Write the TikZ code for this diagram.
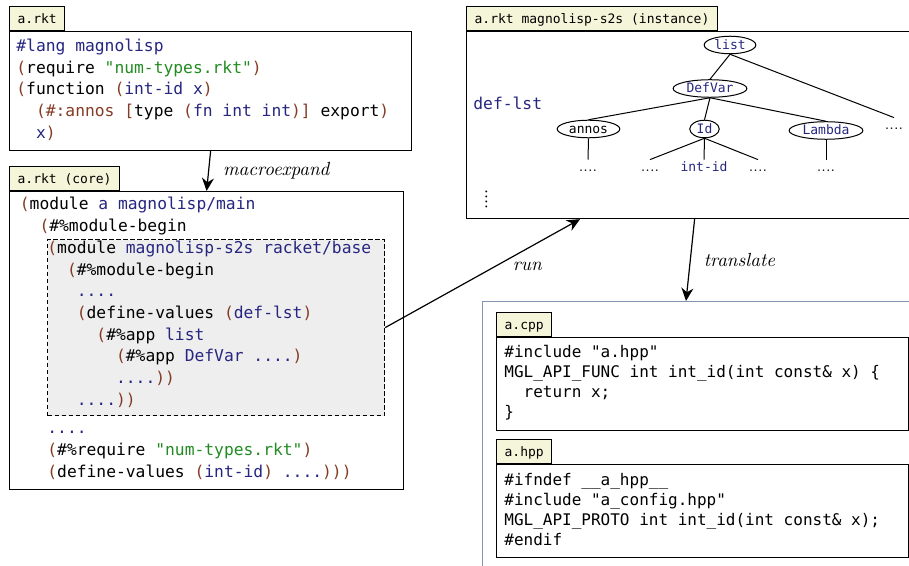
\documentclass[tikz,border=0pt]{standalone}
\usepackage{fontspec}
\usetikzlibrary{arrows.meta,positioning,shapes.geometric,calc}

\newfontfamily\codefont{DejaVu Sans Mono}
\newcommand\codesize{\fontsize{8.15}{10.85}\selectfont}
\newcommand\cppsize{\fontsize{8}{10}\selectfont}
\newcommand\tabsize{\fontsize{6.5}{8}\selectfont}
\newcommand\ci[1]{\hspace*{#1\fontcharwd\font`x}}

\definecolor{pncol}{HTML}{843C24}
\definecolor{symcol}{HTML}{262680}
\definecolor{strcol}{HTML}{228B22}
\definecolor{tabfill}{RGB}{245,245,218}
\definecolor{modfill}{RGB}{238,238,238}
\definecolor{framecol}{RGB}{130,150,180}

\newcommand\pn[1]{\textcolor{pncol}{#1}}
\newcommand\sy[1]{\textcolor{symcol}{#1}}
\newcommand\st[1]{\textcolor{strcol}{#1}}

\begin{document}
\begin{tikzpicture}[x=0.5pt,y=-0.5pt,>={Stealth[length=6.5pt,width=6pt]},
  file box/.style={draw,line width=0.6pt,inner sep=0,anchor=north west},
  file tab/.style={draw,line width=0.6pt,fill=tabfill,font=\codefont\tabsize,minimum height=12pt,
    inner xsep=4pt,inner ysep=0,text height=4.9pt,text depth=0pt},
  code text/.style={anchor=north west,inner sep=0,align=left,font=\codefont\codesize},
  cpp text/.style={code text,font=\codefont\cppsize},
  ast node/.style={ellipse,draw,line width=0.5pt,font=\codefont\tabsize,text=symcol,
    inner xsep=1.3pt,inner ysep=0.3pt,text height=5pt,text depth=0.6pt},
  leaf/.style={anchor=base,font=\fontsize{7}{8}\selectfont,inner xsep=0.5pt,inner ysep=1pt,text height=5pt},
  step label/.style={font=\itshape\fontsize{9.5}{11}\selectfont,inner sep=0}]

  \useasboundingbox[fill=white] (0,0) rectangle (909,566);

  % source module
  \node[file box,minimum width=201pt,minimum height=59.5pt] (src) at (9,31) {};
  \node[file tab,above right=0pt and 0pt of src.north west] (srctab) {a.rkt};
  \node[code text] (srccode) at (16,35.8) {%
    \strut\sy{\#lang magnolisp}\\
    \pn{(}require \st{"num-types.rkt"}\pn{)}\\
    \pn{(}function \pn{(}\sy{int-id x}\pn{)}\\
    \ci{2}\pn{(\#:annos [}type \pn{(}\sy{fn int int}\pn{)]} export\pn{)}\\
    \ci{2}\sy{x}\pn{)}};

  % fully expanded module
  \node[file box,minimum width=197pt,minimum height=149pt] (core) at (9,191) {};
  \node[file tab,above right=0pt and 0pt of core.north west] (coretab) {a.rkt (core)};
  \node[code text] (corehead) at (19.5,194.3) {%
    \strut\pn{(}module \sy{a magnolisp/main}\\
    \ci{2}\pn{(}\#\%module-begin};
  \node[file box,dashed,dash pattern=on 2.1pt off 1.4pt,fill=modfill,minimum width=168.5pt,minimum height=88pt] (s2smod) at (47,239) {};
  \node[code text] (s2scode) at (47,237.8) {%
    \strut\pn{(}module \sy{magnolisp-s2s racket/base}\\
    \ci{2}\pn{(}\#\%module-begin\\
    \ci{3}\sy{....}\\
    \ci{3}\pn{(}define-values \pn{(}\sy{def-lst}\pn{)}\\
    \ci{5}\pn{(}\#\%app \sy{list}\\
    \ci{7}\pn{(}\#\%app \sy{DefVar ....}\pn{)}\\
    \ci{7}\sy{....}\pn{))}\\
    \ci{3}\sy{....}\pn{))}};
  \node[code text] (coretail) at (47,418.1) {%
    \strut\sy{....}\\
    \pn{(}\#\%require \st{"num-types.rkt"}\pn{)}\\
    \pn{(}define-values \pn{(}\sy{int-id}\pn{)} \sy{....}\pn{)))}};

  % instance of the s2s submodule
  \node[file box,minimum width=228pt,minimum height=93.5pt] (inst) at (466,31) {};
  \node[file tab,above right=0pt and 0pt of inst.north west] (insttab) {a.rkt magnolisp-s2s (instance)};
  \node[anchor=base west,inner sep=0,font=\codefont\codesize,text=symcol] (deflst) at (473,110) {def-lst};
  \node[ast node] (list) at (730,45) {list};
  \node[ast node] (defvar) at (710,88.5) {DefVar};
  \node[ast node,text=black] (annos) at (588.5,129) {annos};
  \node[ast node] (id) at (704.5,129) {Id};
  \node[ast node] (lambda) at (826,130.5) {Lambda};
  \node[leaf] (more) at (894,130) {....};
  \node[leaf] (annosarg) at (588,172) {....};
  \node[leaf] (idleft) at (650,172) {....};
  \node[leaf,font=\codefont\tabsize,text=symcol] (idname) at (704,172) {int-id};
  \node[leaf] (idright) at (758,172) {....};
  \node[leaf] (lambdabody) at (826,172) {....};
  \node[rotate=90,inner sep=0,font=\fontsize{9}{10}\selectfont] (vdots) at (486.5,199.5) {....};
  \draw[line width=0.5pt] (list.south) -- (defvar.north);
  \draw[line width=0.5pt] (list.south) -- (more.north);
  \draw[line width=0.5pt] (defvar.south) -- (annos.north);
  \draw[line width=0.5pt] (defvar.south) -- (id.north);
  \draw[line width=0.5pt] (defvar.south) -- (lambda.north);
  \draw[line width=0.5pt] (annos.south) -- (annosarg.north);
  \draw[line width=0.5pt] (id.south) -- (idleft.north);
  \draw[line width=0.5pt] (id.south) -- (idname.north);
  \draw[line width=0.5pt] (id.south) -- (idright.north);
  \draw[line width=0.5pt] (lambda.south) -- (lambdabody.north);

  % generated C++
  \node[file box,draw=framecol,line width=0.5pt,minimum width=254pt,minimum height=159.5pt] (gen) at (482,301) {};
  \node[file box,minimum width=206pt,minimum height=46.5pt] (cpp) at (496,337) {};
  \node[file tab,above right=0pt and 0pt of cpp.north west] (cpptab) {a.cpp};
  \node[cpp text] (cppcode) at (504,342.7) {%
    \strut\#include "a.hpp"\\
    MGL\_API\_FUNC int int\_id(int const\& x) \{\\
    \ci{2}return x;\\
    \}};
  \node[file box,minimum width=206pt,minimum height=46.5pt] (hpp) at (496,464) {};
  \node[file tab,above right=0pt and 0pt of hpp.north west] (hpptab) {a.hpp};
  \node[cpp text] (hppcode) at (504,471) {%
    \strut\#ifndef \_\_a\_hpp\_\_\\
    \#include "a\_config.hpp"\\
    MGL\_API\_PROTO int int\_id(int const\& x);\\
    \#endif};

  \draw[->,line width=0.6pt] (src.south) -- (core.north)
    node[midway,right=7pt,step label] {macroexpand};
  \draw[->,line width=0.6pt] (s2smod.east) -- ($(inst.south west)+(114,0)$)
    node[pos=0.73,below=6.5pt,step label] {run};
  \draw[->,line width=0.6pt] (inst.south) -- ($(gen.north west)+(204,0)$)
    node[midway,right=6.5pt,step label] {translate};
\end{tikzpicture}
\end{document}
